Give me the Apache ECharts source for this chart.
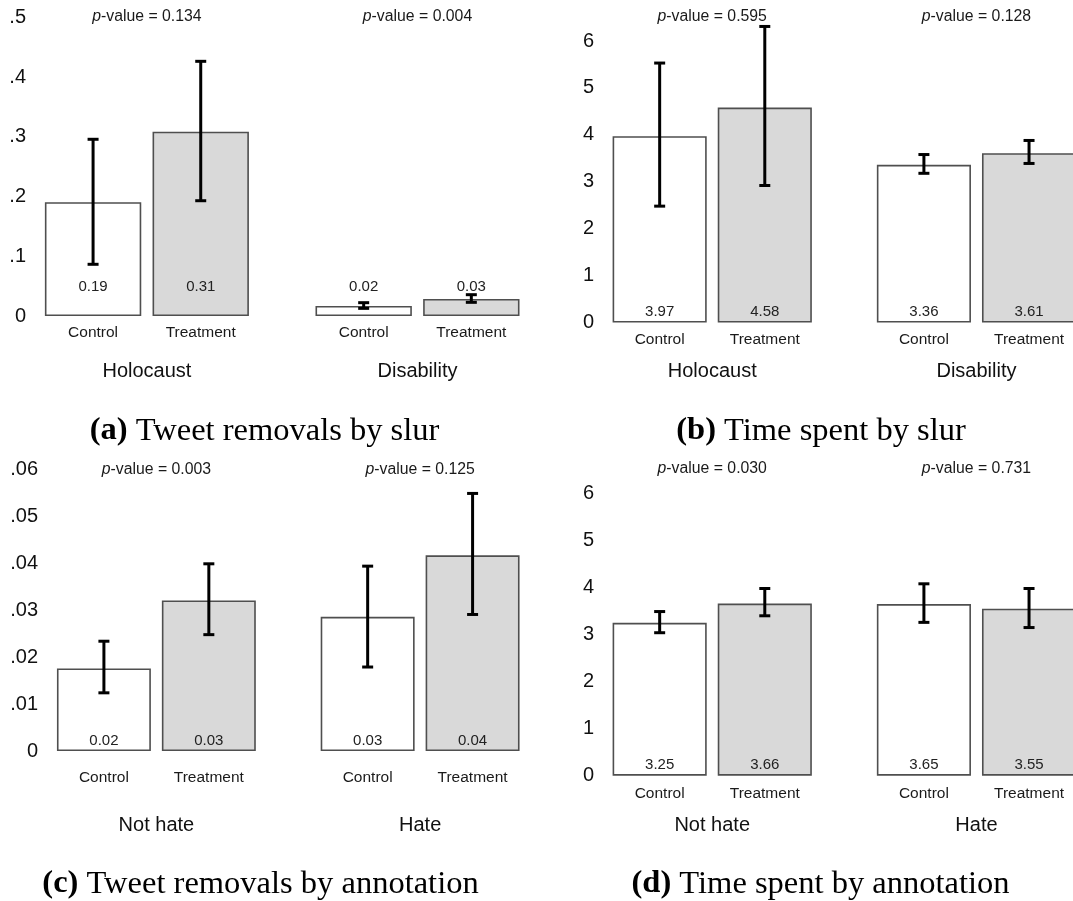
<!DOCTYPE html>
<html>
<head>
<meta charset="utf-8">
<script src="https://cdn.jsdelivr.net/npm/echarts@6/dist/echarts.min.js"></script>
<style>
html,body{margin:0;padding:0;background:#fff;overflow:hidden}
#chart{width:1073px;height:901px}
</style>
</head>
<body>
<div id="chart"></div>
<script>
// ---------------- DATA ----------------
const conditions = ['Control', 'Treatment'];
const slurGroups = ['Holocaust', 'Disability'];
const annotationGroups = ['Not hate', 'Hate'];

// (a) Tweet removals by slur
const removalsSlurControl = [0.1905, 0.0168];
const removalsSlurTreatment = [0.3087, 0.0285];
const removalsSlurControlCI = [[0.0866, 0.2960], [0.0128, 0.0223]];
const removalsSlurTreatmentCI = [[0.1931, 0.4266], [0.0229, 0.0357]];
const removalsSlurP = ['0.134', '0.004'];

// (b) Time spent by slur
const timeSlurControl = [3.97, 3.36];
const timeSlurTreatment = [4.58, 3.61];
const timeSlurControlCI = [[2.48, 5.53], [3.18, 3.58]];
const timeSlurTreatmentCI = [[2.92, 6.31], [3.39, 3.88]];
const timeSlurP = ['0.595', '0.128'];

// (c) Tweet removals by annotation
const removalsAnnControl = [0.0176, 0.0286];
const removalsAnnTreatment = [0.0321, 0.0417];
const removalsAnnControlCI = [[0.0124, 0.0234], [0.0179, 0.0394]];
const removalsAnnTreatmentCI = [[0.0248, 0.0399], [0.0291, 0.0549]];
const removalsAnnP = ['0.003', '0.125'];

// (d) Time spent by annotation
const timeAnnControl = [3.25, 3.65];
const timeAnnTreatment = [3.66, 3.55];
const timeAnnControlCI = [[3.04, 3.49], [3.26, 4.08]];
const timeAnnTreatmentCI = [[3.40, 3.98], [3.15, 3.98]];
const timeAnnP = ['0.030', '0.731'];

const captionTags = ['(a)', '(b)', '(c)', '(d)'];
const captionTexts = ['Tweet removals by slur', 'Time spent by slur', 'Tweet removals by annotation', 'Time spent by annotation'];

// ---------------- LAYOUT / STYLE ----------------
const SANS = "'Liberation Sans', Arial, Helvetica, sans-serif";
const SERIF = "'Liberation Serif', 'Times New Roman', serif";
const CAT_GAP = 0.246;
const BAR_GAP = 0.117;

const panels = [
  {groups: slurGroups, ctrl: removalsSlurControl, treat: removalsSlurTreatment, ctrlCI: removalsSlurControlCI, treatCI: removalsSlurTreatmentCI, p: removalsSlurP,
   left: 11.6, top: 17.5, width: 541.2, height: 298.5, max: 0.5, interval: 0.1, frac: true, yOffset: -14.4, valDist: 21.5, catOff: 16.3, grpMargin: 45.7, pAt: 0.502},
  {groups: slurGroups, ctrl: timeSlurControl, treat: timeSlurTreatment, ctrlCI: timeSlurControlCI, treatCI: timeSlurTreatmentCI, p: timeSlurP,
   left: 580.1, top: 41, width: 528.5, height: 281.5, max: 6, interval: 1, frac: false, yOffset: -13.9, valDist: 3, catOff: 17.5, grpMargin: 39.2, pAt: 6.52},
  {groups: annotationGroups, ctrl: removalsAnnControl, treat: removalsAnnTreatment, ctrlCI: removalsAnnControlCI, treatCI: removalsAnnTreatmentCI, p: removalsAnnP,
   left: 24.5, top: 469.5, width: 527.5, height: 281.5, max: 0.06, interval: 0.01, frac: true, yOffset: -13.5, valDist: 2.5, catOff: 26.3, grpMargin: 64, pAt: 0.06},
  {groups: annotationGroups, ctrl: timeAnnControl, treat: timeAnnTreatment, ctrlCI: timeAnnControlCI, treatCI: timeAnnTreatmentCI, p: timeAnnP,
   left: 580.1, top: 493.5, width: 528.5, height: 282.2, max: 6, interval: 1, frac: false, yOffset: -13.9, valDist: 3.2, catOff: 17.6, grpMargin: 39.3, pAt: 6.53}
];
const captionPos = [[264.5, 431], [821, 431], [260.5, 884], [820.5, 884]];

function fracFmt(v) {
  if (v === 0) return '0';
  return String(+v.toFixed(3)).replace(/^0\./, '.');
}

const grid = [], xAxis = [], yAxis = [], series = [];
panels.forEach((p, i) => {
  grid.push({left: p.left, top: p.top, width: p.width, height: p.height, containLabel: false, outerBoundsMode: 'none'});
  xAxis.push({
    type: 'category', gridIndex: i, data: p.groups,
    axisLine: {show: false}, axisTick: {show: false}, splitLine: {show: false},
    axisLabel: {fontSize: 20, color: '#111', fontFamily: SANS, margin: p.grpMargin, interval: 0}
  });
  yAxis.push({
    type: 'value', gridIndex: i, min: 0, max: p.max, interval: p.interval, offset: p.yOffset,
    axisLine: {show: false}, axisTick: {show: false}, splitLine: {show: false},
    axisLabel: {fontSize: 20, color: '#111', fontFamily: SANS, margin: 0,
      formatter: p.frac ? fracFmt : (v => String(v))}
  });
  const lbl = () => ({
    show: true, position: 'insideBottom', distance: p.valDist,
    fontSize: 15, color: '#222', fontFamily: SANS,
    formatter: (o) => Number(o.value).toFixed(2)
  });
  series.push({
    type: 'bar', name: conditions[0], xAxisIndex: i, yAxisIndex: i, data: p.ctrl,
    barCategoryGap: (CAT_GAP * 100) + '%', barGap: (BAR_GAP * 100) + '%',
    itemStyle: {color: '#ffffff', borderColor: '#4f4f4f', borderWidth: 1.6},
    label: lbl(), silent: true, z: 2
  });
  series.push({
    type: 'bar', name: conditions[1], xAxisIndex: i, yAxisIndex: i, data: p.treat,
    barCategoryGap: (CAT_GAP * 100) + '%', barGap: (BAR_GAP * 100) + '%',
    itemStyle: {color: '#d9d9d9', borderColor: '#4f4f4f', borderWidth: 1.6},
    label: lbl(), silent: true, z: 2
  });
  // error bars + condition labels
  const ebData = [];
  p.groups.forEach((g, gi) => {
    ebData.push([gi, 0, p.ctrlCI[gi][0], p.ctrlCI[gi][1]]);
    ebData.push([gi, 1, p.treatCI[gi][0], p.treatCI[gi][1]]);
  });
  series.push({
    type: 'custom', xAxisIndex: i, yAxisIndex: i, data: ebData, z: 5, silent: true, clip: false,
    renderItem: (params, api) => {
      const g = api.value(0), c = api.value(1), lo = api.value(2), hi = api.value(3);
      const band = api.size([1, 0])[0];
      const bw = band * (1 - CAT_GAP) / (2 + BAR_GAP);
      const off = bw * (1 + BAR_GAP) / 2;
      const base = api.coord([g, 0]);
      const x = base[0] + (c === 0 ? -off : off);
      const yLo = api.coord([g, lo])[1], yHi = api.coord([g, hi])[1];
      const st = {stroke: '#000', lineWidth: 3};
      return {type: 'group', children: [
        {type: 'line', shape: {x1: x, y1: yLo, x2: x, y2: yHi}, style: st},
        {type: 'line', shape: {x1: x - 5.5, y1: yHi, x2: x + 5.5, y2: yHi}, style: st},
        {type: 'line', shape: {x1: x - 5.5, y1: yLo, x2: x + 5.5, y2: yLo}, style: st},
        {type: 'text', x: x, y: base[1] + p.catOff, style: {text: conditions[c], fontSize: 15.5, fontFamily: SANS, fill: '#1a1a1a', align: 'center', verticalAlign: 'middle'}}
      ]};
    }
  });
  // p-values
  series.push({
    type: 'custom', xAxisIndex: i, yAxisIndex: i, data: p.groups.map((g, gi) => [gi, p.pAt]), z: 5, silent: true, clip: false,
    renderItem: (params, api) => {
      const pt = api.coord([api.value(0), api.value(1)]);
      return {type: 'text', x: pt[0], y: pt[1], style: {
        text: '{i|p}-value = ' + p.p[params.dataIndex],
        rich: {i: {fontStyle: 'italic', fontSize: 15.8, fontFamily: SANS, fill: '#1a1a1a'}},
        fontSize: 15.8, fontFamily: SANS, fill: '#1a1a1a', align: 'center', verticalAlign: 'middle'}};
    }
  });
});

const graphic = captionTags.map((t, i) => ({
  type: 'text', x: captionPos[i][0], y: captionPos[i][1], silent: true,
  style: {
    text: '{b|' + t + '} ' + captionTexts[i],
    rich: {b: {fontWeight: 'bold', fontFamily: SERIF, fontSize: 32.5, fill: '#000'}},
    fontFamily: SERIF, fontSize: 32.5, fill: '#000', align: 'center', verticalAlign: 'middle'
  }
}));

const chart = echarts.init(document.getElementById('chart'), null, {renderer: 'canvas'});
chart.setOption({
  animation: false,
  backgroundColor: '#ffffff',
  grid, xAxis, yAxis, series, graphic,
  tooltip: {show: false}
});
</script>
</body>
</html>
